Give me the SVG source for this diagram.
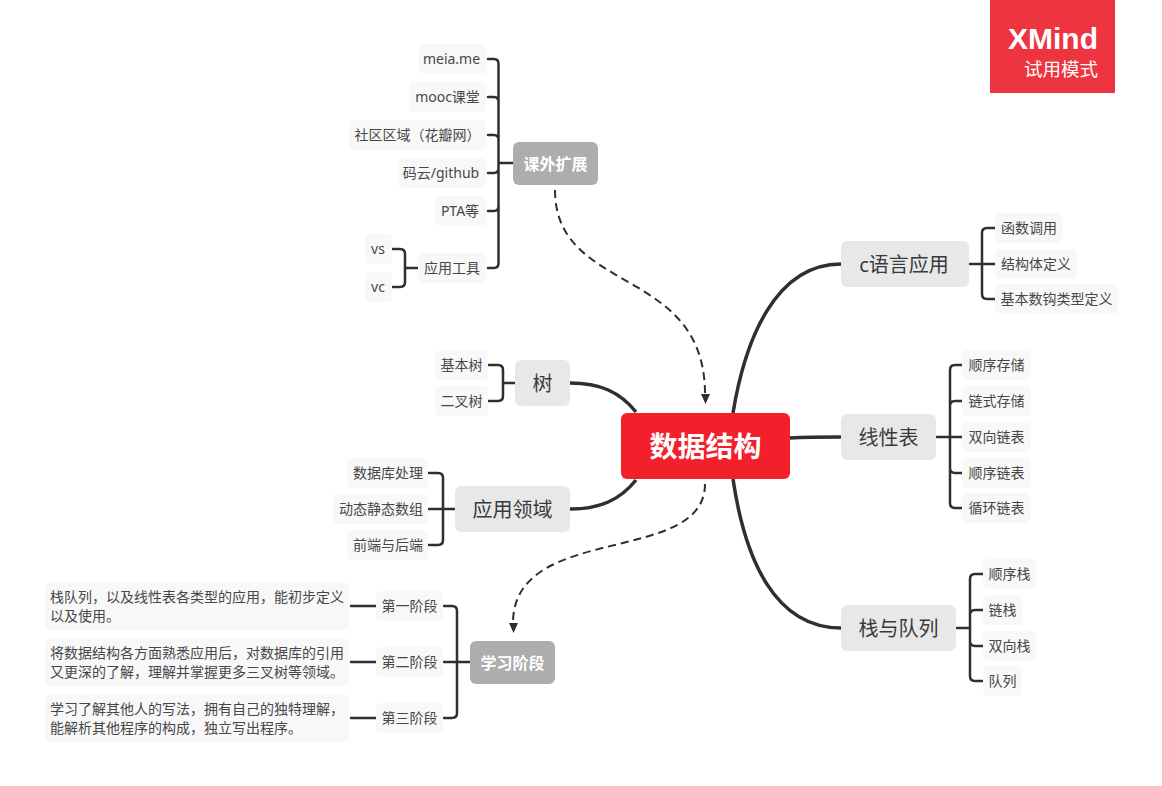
<svg xmlns="http://www.w3.org/2000/svg" width="1162" height="786" viewBox="0 0 1162 786">
<style>
text{font-family:"Noto Sans","Noto Sans CJK SC",sans-serif;text-anchor:middle;dominant-baseline:central;fill:#474747}
.leaf rect{fill:#f8f8f8}
.leaf text{font-size:14px;transform:translateY(-1px)}
.topic rect{fill:#e8e8e8}
.topic text{font-size:20px;fill:#3a3a3a}
.sub rect{fill:#adadad}
.sub text{font-size:16px;font-weight:700;fill:#fff}
.long text{text-anchor:start}
.c{fill:none;stroke:#2f2f2f;stroke-width:2.5;stroke-linecap:round}
.m{fill:none;stroke:#2f2f2f;stroke-width:3.5}
.d{fill:none;stroke:#2f2f2f;stroke-width:2;stroke-dasharray:8 5}
.h{fill:#2f2f2f}
</style>
<g id="connectors">
<path class="m" d="M733 413C745 340 775 264 841 264"/>
<path class="m" d="M790 438C808 437 822 437 841 437"/>
<path class="m" d="M733 479C745 560 775 628 841 628"/>
<path class="m" d="M570 383C600 383 620 392 636 412"/>
<path class="m" d="M570 509C600 509 620 500 636 480"/>
<path class="d" d="M555 190C555 295 705 265 705 394"/>
<path class="h" d="M701 394L710 394L705.500 404Z"/>
<path class="d" d="M705 484C705 566 513 522 513 623"/>
<path class="h" d="M509 623L518 623L513.500 633Z"/>
<path class="c" d="M488 59H494Q498.500 59 498.500 64V263Q498.500 268 494 268H488M488 97H494Q498.500 97 498.500 102M488 135H494Q498.500 135 498.500 140M488 173H494Q498.500 173 498.500 168M488 211H494Q498.500 211 498.500 206M498.500 163H513"/>
<path class="c" d="M393 249H400Q405 249 405 254V282Q405 287 400 287H393M405 268H418"/>
<path class="c" d="M995 228H987Q982 228 982 233V294Q982 299 987 299H995M969 264H995"/>
<path class="c" d="M962 365H955Q950 365 950 370V503Q950 508 955 508H962M962 401H955Q950 401 950 406M937 437H962M962 473H955Q950 473 950 468"/>
<path class="c" d="M983 574H975Q970 574 970 579V676Q970 681 975 681H983M983 610H975Q970 610 970 615M983 646H975Q970 646 970 641M957 628H970"/>
<path class="c" d="M489 365H498Q503 365 503 370V396Q503 401 498 401H489M503 383H515"/>
<path class="c" d="M429 473H438Q443 473 443 478V540Q443 545 438 545H429M429 509H455"/>
<path class="c" d="M444 606H452Q457 606 457 611V713Q457 718 452 718H444M444 662H470"/>
<path class="c" d="M351 606H376M351 662H376M351 718H376"/>
</g>
<g id="central"><rect x="621" y="413" width="169" height="66" rx="6" fill="#f3202c"/><text x="705.500" y="446" font-size="28" font-weight="700" style="fill:#fff">数据结构</text></g>
<g id="t-c" class="topic"><rect x="841" y="241" width="128" height="46" rx="6"/><text x="904" y="264">c语言应用</text></g>
<g id="t-linear" class="topic"><rect x="841" y="414" width="95" height="46" rx="6"/><text x="888.500" y="437">线性表</text></g>
<g id="t-stack" class="topic"><rect x="841" y="605" width="115" height="46" rx="6"/><text x="898.500" y="628">栈与队列</text></g>
<g id="t-tree" class="topic"><rect x="515" y="360" width="55" height="46" rx="6"/><text x="542.500" y="383">树</text></g>
<g id="t-app" class="topic"><rect x="455" y="486" width="115" height="46" rx="6"/><text x="512.500" y="509">应用领域</text></g>
<g id="s-extra" class="sub"><rect x="513" y="142" width="85" height="43" rx="6"/><text x="555.500" y="163.500">课外扩展</text></g>
<g id="s-learn" class="sub"><rect x="470" y="641" width="85" height="43" rx="6"/><text x="512.500" y="662.500">学习阶段</text></g>
<g id="l1" class="leaf"><rect x="419" y="44" width="67" height="30" rx="5"/><text x="451.500" y="59">meia.me</text></g>
<g id="l2" class="leaf"><rect x="409" y="82" width="77" height="30" rx="5"/><text x="447.500" y="97">mooc课堂</text></g>
<g id="l3" class="leaf"><rect x="349" y="120" width="137" height="30" rx="5"/><text x="417.500" y="135">社区区域（花瓣网）</text></g>
<g id="l4" class="leaf"><rect x="398" y="158" width="88" height="30" rx="5"/><text x="441" y="173">码云/github</text></g>
<g id="l5" class="leaf"><rect x="435" y="196" width="51" height="30" rx="5"/><text x="460" y="211">PTA等</text></g>
<g id="l6" class="leaf"><rect x="418" y="253" width="68" height="30" rx="5"/><text x="452" y="268">应用工具</text></g>
<g id="l7" class="leaf"><rect x="365" y="234" width="27" height="30" rx="5"/><text x="378" y="249">vs</text></g>
<g id="l8" class="leaf"><rect x="365" y="272" width="27" height="30" rx="5"/><text x="378" y="287">vc</text></g>
<g id="l9" class="leaf"><rect x="435" y="350" width="53" height="30" rx="5"/><text x="461.500" y="365">基本树</text></g>
<g id="l10" class="leaf"><rect x="435" y="386" width="53" height="30" rx="5"/><text x="461.500" y="401">二叉树</text></g>
<g id="l11" class="leaf"><rect x="347" y="458" width="81" height="30" rx="5"/><text x="388" y="473">数据库处理</text></g>
<g id="l12" class="leaf"><rect x="333" y="494" width="95" height="30" rx="5"/><text x="381" y="509">动态静态数组</text></g>
<g id="l13" class="leaf"><rect x="347" y="530" width="81" height="30" rx="5"/><text x="388" y="545">前端与后端</text></g>
<g id="l14" class="leaf"><rect x="995" y="213" width="68" height="30" rx="5"/><text x="1029" y="228">函数调用</text></g>
<g id="l15" class="leaf"><rect x="995" y="249" width="82" height="30" rx="5"/><text x="1036" y="264">结构体定义</text></g>
<g id="l16" class="leaf"><rect x="995" y="284" width="123" height="30" rx="5"/><text x="1056.500" y="299">基本数钩类型定义</text></g>
<g id="l17" class="leaf"><rect x="962" y="350" width="69" height="30" rx="5"/><text x="996.500" y="365">顺序存储</text></g>
<g id="l18" class="leaf"><rect x="962" y="386" width="69" height="30" rx="5"/><text x="996.500" y="401">链式存储</text></g>
<g id="l19" class="leaf"><rect x="962" y="422" width="69" height="30" rx="5"/><text x="996.500" y="437">双向链表</text></g>
<g id="l20" class="leaf"><rect x="962" y="458" width="69" height="30" rx="5"/><text x="996.500" y="473">顺序链表</text></g>
<g id="l21" class="leaf"><rect x="962" y="493" width="69" height="30" rx="5"/><text x="996.500" y="508">循环链表</text></g>
<g id="l22" class="leaf"><rect x="983" y="559" width="53" height="30" rx="5"/><text x="1009.500" y="574">顺序栈</text></g>
<g id="l23" class="leaf"><rect x="983" y="595" width="39" height="30" rx="5"/><text x="1002.500" y="610">链栈</text></g>
<g id="l24" class="leaf"><rect x="983" y="631" width="53" height="30" rx="5"/><text x="1009.500" y="646">双向栈</text></g>
<g id="l25" class="leaf"><rect x="983" y="666" width="39" height="30" rx="5"/><text x="1002.500" y="681">队列</text></g>
<g id="l26" class="leaf"><rect x="376" y="591" width="67" height="30" rx="5"/><text x="409.500" y="606">第一阶段</text></g>
<g id="l27" class="leaf"><rect x="376" y="647" width="67" height="30" rx="5"/><text x="409.500" y="662">第二阶段</text></g>
<g id="l28" class="leaf"><rect x="376" y="703" width="67" height="30" rx="5"/><text x="409.500" y="718">第三阶段</text></g>
<g id="n1" class="leaf long"><rect x="45" y="583" width="304" height="47" rx="5"/><text x="50" y="597">栈队列，以及线性表各类型的应用，能初步定义</text><text x="50" y="616">以及使用。</text></g>
<g id="n2" class="leaf long"><rect x="45" y="639" width="304" height="47" rx="5"/><text x="50" y="653">将数据结构各方面熟悉应用后，对数据库的引用</text><text x="50" y="672">又更深的了解，理解并掌握更多三叉树等领域。</text></g>
<g id="n3" class="leaf long"><rect x="45" y="695" width="304" height="47" rx="5"/><text x="50" y="709">学习了解其他人的写法，拥有自己的独特理解，</text><text x="50" y="728">能解析其他程序的构成，独立写出程序。</text></g>
<g id="badge"><rect x="990" y="0" width="125" height="93" fill="#ee3440"/><text x="1098" y="38" font-size="30" font-weight="700" style="font-family:'Liberation Sans',sans-serif;fill:#fff;text-anchor:end">XMind</text><text x="1098" y="68" font-size="18.500" style="font-family:'Noto Sans CJK SC',sans-serif;fill:#fff;text-anchor:end">试用模式</text></g>
</svg>
